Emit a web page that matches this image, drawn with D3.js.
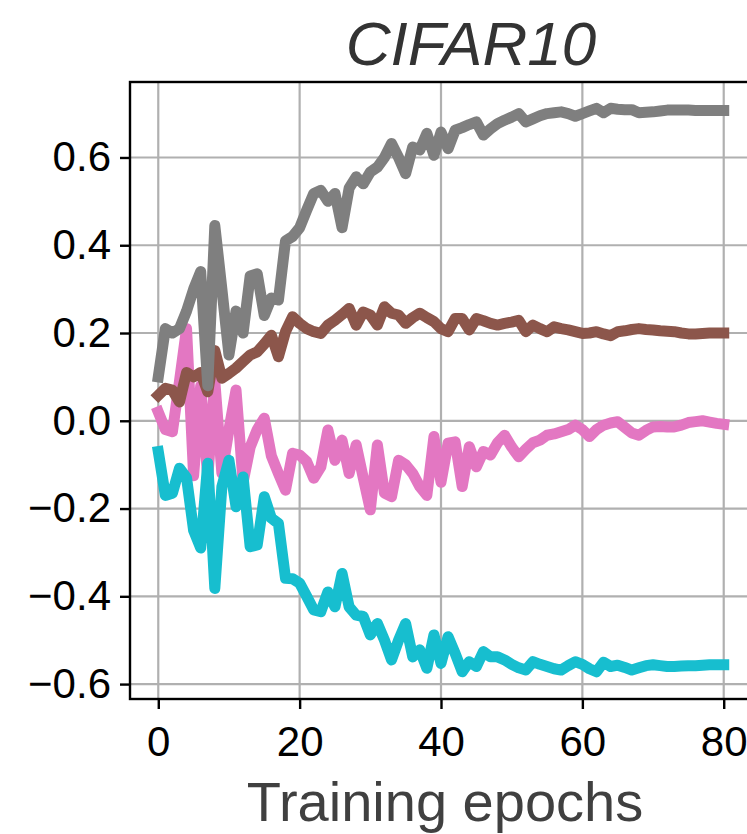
<!DOCTYPE html>
<html>
<head>
<meta charset="utf-8">
<script src="https://cdn.jsdelivr.net/npm/d3@7"></script>
<style>
  body { margin: 0; background: #ffffff; }
  #graf { width: 747px; height: 834px; }
</style>
</head>
<body>
<div id="graf"></div>
<script>
// CIFAR10 - evolución por época

// Datos (leídos a ojo del gráfico original)
epocas = d3.range(0, 81)
xTicks = [0, 20, 40, 60, 80]
yTicks = [-0.6, -0.4, -0.2, 0.0, 0.2, 0.4, 0.6]

gris = [0.10, 0.21, 0.20, 0.21, 0.25, 0.30, 0.34, 0.08, 0.445, 0.30,
        0.15, 0.25, 0.20, 0.33, 0.335, 0.24, 0.28, 0.275, 0.41, 0.42,
        0.44, 0.48, 0.518, 0.525, 0.50, 0.518, 0.44, 0.53, 0.556, 0.54,
        0.567, 0.578, 0.60, 0.632, 0.60, 0.563, 0.624, 0.617, 0.655, 0.605,
        0.658, 0.62, 0.662, 0.668, 0.675, 0.681, 0.651, 0.665, 0.677, 0.685,
        0.692, 0.70, 0.681, 0.688, 0.695, 0.70, 0.702, 0.704, 0.70, 0.694,
        0.70, 0.706, 0.712, 0.702, 0.712, 0.71, 0.709, 0.709, 0.702, 0.703,
        0.704, 0.706, 0.708, 0.708, 0.708, 0.708, 0.707, 0.707, 0.707, 0.707,
        0.707]

marron = [0.058, 0.074, 0.07, 0.043, 0.11, 0.10, 0.11, 0.066, 0.16, 0.097,
          0.108, 0.12, 0.135, 0.15, 0.157, 0.175, 0.195, 0.146, 0.203, 0.237,
          0.222, 0.21, 0.203, 0.199, 0.218, 0.229, 0.242, 0.256, 0.218, 0.248,
          0.241, 0.218, 0.26, 0.245, 0.241, 0.222, 0.235, 0.245, 0.235, 0.226,
          0.21, 0.203, 0.233, 0.233, 0.207, 0.233, 0.228, 0.222, 0.218, 0.222,
          0.225, 0.229, 0.203, 0.218, 0.21, 0.203, 0.214, 0.21, 0.207, 0.203,
          0.199, 0.20, 0.203, 0.198, 0.194, 0.203, 0.205, 0.208, 0.21, 0.208,
          0.207, 0.205, 0.204, 0.203, 0.20, 0.198, 0.198, 0.199, 0.20, 0.20,
          0.20]

rosa = [0.02, -0.02, -0.025, 0.09, 0.21, -0.125, 0.08, -0.13, 0.09, -0.12,
        -0.02, 0.07, -0.14, -0.06, -0.02, 0.006, -0.08, -0.12, -0.158, -0.074,
        -0.078, -0.093, -0.131, -0.105, -0.021, -0.09, -0.044, -0.12, -0.055, -0.13,
        -0.203, -0.055, -0.165, -0.173, -0.09, -0.10, -0.12, -0.15, -0.17, -0.036,
        -0.14, -0.051, -0.048, -0.15, -0.059, -0.105, -0.07, -0.078, -0.05, -0.033,
        -0.06, -0.082, -0.065, -0.05, -0.044, -0.033, -0.03, -0.025, -0.02, -0.01,
        -0.02, -0.036, -0.02, -0.01, -0.005, -0.002, -0.015, -0.028, -0.033, -0.022,
        -0.014, -0.013, -0.014, -0.014, -0.01, -0.004, -0.002, 0.0, -0.003, -0.006,
        -0.008]

cian = [-0.07, -0.17, -0.165, -0.108, -0.13, -0.25, -0.29, -0.097, -0.382, -0.15,
        -0.09, -0.196, -0.128, -0.287, -0.283, -0.173, -0.222, -0.234, -0.359, -0.36,
        -0.37, -0.40, -0.431, -0.435, -0.39, -0.424, -0.348, -0.424, -0.443, -0.446,
        -0.488, -0.462, -0.50, -0.545, -0.50, -0.462, -0.538, -0.522, -0.564, -0.488,
        -0.553, -0.492, -0.53, -0.572, -0.549, -0.56, -0.526, -0.538, -0.538, -0.545,
        -0.555, -0.563, -0.568, -0.549, -0.555, -0.56, -0.565, -0.568, -0.558, -0.549,
        -0.555, -0.565, -0.572, -0.55, -0.56, -0.557, -0.562, -0.568, -0.563, -0.558,
        -0.556, -0.558, -0.56, -0.56, -0.559, -0.558, -0.558, -0.557, -0.556, -0.556,
        -0.556]

// orden de dibujo: el último queda encima
series = [
  { nombre: 'rosa',   valores: rosa,   color: '#e377c2' },
  { nombre: 'cian',   valores: cian,   color: '#17becf' },
  { nombre: 'marron', valores: marron, color: '#8c564b' },
  { nombre: 'gris',   valores: gris,   color: '#7f7f7f' }
]

ancho_total = 747
alto_total  = 834
margins = { top: 82, left: 130, right: -5, bottom: 135 }
ancho = ancho_total - margins.left - margins.right
alto  = alto_total - margins.top - margins.bottom

graf = d3.select('#graf')
svg = graf.append('svg')
          .attr('width', ancho_total)
          .attr('height', alto_total)

g = svg.append('g')
       .attr('transform', `translate(${ margins.left }, ${ margins.top })`)

// Escaladores
x = d3.scaleLinear().domain([-4, 84]).range([0, ancho])
y = d3.scaleLinear().domain([-0.634, 0.772]).range([alto, 0])

// Grilla
g.append('g')
  .selectAll('line')
  .data(xTicks)
  .enter().append('line')
    .attr('x1', d => x(d)).attr('x2', d => x(d))
    .attr('y1', 0).attr('y2', alto)
    .attr('stroke', '#b0b0b0')
    .attr('stroke-width', 2.2)

g.append('g')
  .selectAll('line')
  .data(yTicks)
  .enter().append('line')
    .attr('x1', 0).attr('x2', ancho)
    .attr('y1', d => y(d)).attr('y2', d => y(d))
    .attr('stroke', '#b0b0b0')
    .attr('stroke-width', 2.2)

// Líneas
linea = d3.line()
          .x((d, i) => x(epocas[i]))
          .y(d => y(d))

g.selectAll('path.serie')
  .data(series)
  .enter().append('path')
    .attr('class', 'serie')
    .attr('d', d => linea(d.valores))
    .attr('fill', 'none')
    .attr('stroke', d => d.color)
    .attr('stroke-width', 11)
    .attr('stroke-linejoin', 'round')
    .attr('stroke-linecap', 'square')

// Ejes
ejeX = d3.axisBottom(x)
         .tickValues(xTicks)
         .tickFormat(d3.format('d'))
         .tickSize(10)
         .tickPadding(17)

ejeY = d3.axisLeft(y)
         .tickValues(yTicks)
         .tickFormat(d => d3.format('.1f')(d).replace('-', '\u2212'))
         .tickSize(10)
         .tickPadding(9)

gx = g.append('g')
      .attr('transform', `translate(0, ${ alto })`)
      .call(ejeX)

gy = g.append('g')
      .call(ejeY)

svg.selectAll('.tick text')
   .attr('font-family', 'Liberation Sans, Arial, sans-serif')
   .attr('font-size', '42px')
   .attr('fill', '#000')

svg.selectAll('.tick line')
   .attr('stroke', '#000')
   .attr('stroke-width', 2.4)

svg.selectAll('.domain').remove()

// Marco
g.append('rect')
  .attr('x', 0)
  .attr('y', 0)
  .attr('width', ancho)
  .attr('height', alto)
  .attr('stroke', '#000')
  .attr('stroke-width', 2.4)
  .attr('fill', 'none')

// Título y etiqueta
svg.append('text')
   .attr('x', 471)
   .attr('y', 65)
   .attr('text-anchor', 'middle')
   .attr('font-family', 'Liberation Sans, Arial, sans-serif')
   .attr('font-style', 'italic')
   .attr('font-size', '62px')
   .attr('fill', '#333333')
   .text('CIFAR10')

svg.append('text')
   .attr('x', 445)
   .attr('y', 821)
   .attr('text-anchor', 'middle')
   .attr('font-family', 'Liberation Sans, Arial, sans-serif')
   .attr('font-size', '56px')
   .attr('fill', '#404040')
   .text('Training epochs')
</script>
</body>
</html>
